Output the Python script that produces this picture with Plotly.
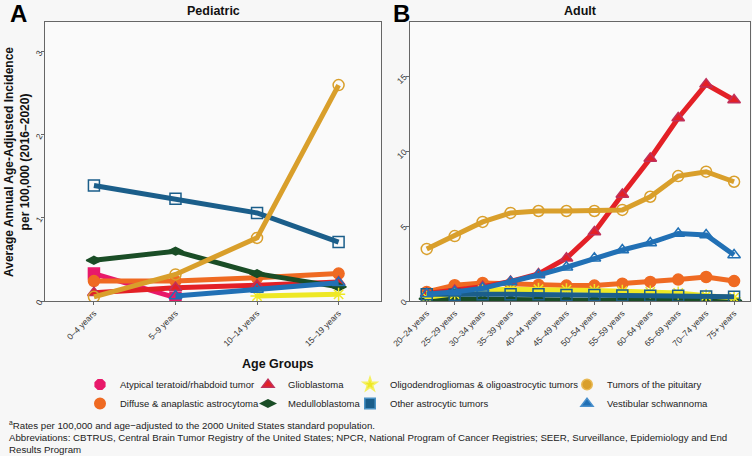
import plotly.graph_objects as go

W, H = 752, 456

ped_ages = ["0–4 years", "5–9 years", "10–14 years", "15–19 years"]
adult_ages = ["20–24 years", "25–29 years", "30–34 years", "35–39 years", "40–44 years",
              "45–49 years", "50–54 years", "55–59 years", "60–64 years", "65–69 years",
              "70–74 years", "75+ years"]

names = ["Atypical teratoid/rhabdoid tumor", "Diffuse & anaplastic astrocytoma", "Glioblastoma",
         "Medulloblastoma", "Oligodendrogliomas & oligoastrocytic tumors", "Other astrocytic tumors",
         "Tumors of the pituitary", "Vestibular schwannoma"]

ped_atrt = [0.33, 0.04, None, None]
ped_diffuse = [0.24, 0.24, 0.28, 0.33]
ped_gbm = [0.10, 0.16, 0.19, 0.23]
ped_medullo = [0.49, 0.60, 0.33, 0.17]
ped_oligo = [None, None, 0.06, 0.08]
ped_other = [1.39, 1.23, 1.06, 0.71]
ped_pit = [0.05, 0.32, 0.76, 2.60]
ped_vest = [None, 0.06, 0.14, 0.22]

ad_atrt = [None] * 12
ad_diffuse = [0.60, 1.05, 1.20, 1.13, 1.07, 1.03, 1.03, 1.15, 1.27, 1.43, 1.60, 1.33]
ad_gbm = [0.50, 0.70, 0.95, 1.30, 1.80, 2.85, 4.60, 7.10, 9.50, 12.20, 14.45, 13.40]
ad_medullo = [0.15, 0.12, 0.10, 0.08, 0.07, 0.06, 0.05, 0.05, 0.04, 0.04, 0.03, 0.03]
ad_oligo = [0.25, 0.45, 0.72, 0.78, 0.78, 0.75, 0.70, 0.65, 0.60, 0.53, 0.35, 0.22]
ad_other = [0.45, 0.42, 0.45, 0.45, 0.45, 0.40, 0.40, 0.37, 0.35, 0.35, 0.30, 0.28]
ad_pit = [3.47, 4.33, 5.27, 5.87, 6.00, 6.00, 6.00, 6.07, 6.95, 8.33, 8.62, 7.95]
ad_vest = [0.47, 0.60, 0.85, 1.27, 1.73, 2.25, 2.85, 3.40, 3.87, 4.50, 4.40, 3.07]

ped_vals = [ped_atrt, ped_diffuse, ped_gbm, ped_medullo, ped_oligo, ped_other, ped_pit, ped_vest]
ad_vals = [ad_atrt, ad_diffuse, ad_gbm, ad_medullo, ad_oligo, ad_other, ad_pit, ad_vest]

colors = ["#e8196a", "#ef6a22", "#e32026", "#1a4d26", "#eee825", "#1b5e8a", "#d99f2b", "#2170b5"]
outline = ["#e8196a", "#ef6a22", "#c0305a", "#1a4d26", "#f5f060", "#4a92c4", "#e8b955", "#4a90cc"]
symbols = ["square", "circle", "triangle-up", "diamond-wide", "asterisk-open", "square-open",
           "circle-open", "triangle-up-open"]
leg_symbols = ["octagon", "circle", "triangle-up", "diamond-wide", "star", "square",
               "circle", "triangle-up"]
legend_ids = ["legend", "legend", "legend2", "legend2", "legend3", "legend3", "legend4", "legend4"]

fig = go.Figure()

for i, nm in enumerate(names):
    for xs, ys, xa, ya in [(ped_ages, ped_vals[i], "x", "y"), (adult_ages, ad_vals[i], "x2", "y2")]:
        fig.add_trace(go.Scatter(
            x=xs, y=ys, xaxis=xa, yaxis=ya, mode="lines+markers", name=nm,
            showlegend=False, connectgaps=False,
            line=dict(color=colors[i], width=5),
            marker=dict(symbol=symbols[i], size=11, color=colors[i],
                        line=dict(color=outline[i], width=1.5)),
        ))

for i, nm in enumerate(names):
    fig.add_trace(go.Scatter(
        x=[None], y=[None], xaxis="x", yaxis="y", mode="markers", name=nm,
        legend=legend_ids[i], showlegend=True,
        marker=dict(symbol=leg_symbols[i], size=10.5, color=colors[i],
                    line=dict(color=outline[i], width=1.5)),
    ))

x1 = [45 / W, 381 / W]
x2 = [410 / W, 750 / W]
yd = [1 - 301 / H, 1 - 22 / H]

axis_common = dict(showline=True, linecolor="#666", linewidth=1, mirror=True, showgrid=False,
                   zeroline=False, ticks="outside", ticklen=3, tickcolor="#666", automargin=False,
                   tickfont=dict(family="Liberation Sans", size=8.5, color="#333"))

fig.update_layout(
    width=W, height=H, margin=dict(l=0, r=0, t=0, b=0),
    paper_bgcolor="#f7f7f7", plot_bgcolor="#fafafa",
    font=dict(family="Liberation Sans", color="#111"),
    xaxis=dict(domain=x1, anchor="y", type="category", categoryarray=ped_ages,
               range=[-0.6, 3.52], tickangle=-45, **axis_common),
    yaxis=dict(domain=yd, anchor="x", range=[0, 3.36], tickvals=[0, 1, 2, 3],
               tickangle=-60, **axis_common),
    xaxis2=dict(domain=x2, anchor="y2", type="category", categoryarray=adult_ages,
                range=[-0.6, 11.57], tickangle=-45, **axis_common),
    yaxis2=dict(domain=yd, anchor="x2", range=[0, 18.6], tickvals=[0, 5, 10, 15],
                tickangle=-45, **axis_common),
)

leg_common = dict(orientation="v", yanchor="top", xanchor="left", bgcolor="rgba(0,0,0,0)",
                  font=dict(family="Liberation Sans", size=9.5, color="#222"),
                  itemclick=False, tracegroupgap=0)
top = 1 - 370 / H
fig.update_layout(
    legend=dict(x=80 / W, y=top, **leg_common),
    legend2=dict(x=248 / W, y=top, **leg_common),
    legend3=dict(x=350 / W, y=top, **leg_common),
    legend4=dict(x=567 / W, y=top, **leg_common),
)

def px(x, y):
    return x / W, 1 - y / H

anns = [
    dict(text="<b>A</b>", x=px(8, 13)[0], y=px(8, 13)[1], xanchor="left", font=dict(size=24, color="#000")),
    dict(text="<b>B</b>", x=px(391, 13)[0], y=px(391, 13)[1], xanchor="left", font=dict(size=24, color="#000")),
    dict(text="<b>Pediatric</b>", x=px(213, 11)[0], y=px(213, 11)[1], xanchor="center", font=dict(size=12.5, color="#111")),
    dict(text="<b>Adult</b>", x=px(580, 11)[0], y=px(580, 11)[1], xanchor="center", font=dict(size=12.5, color="#111")),
    dict(text="<b>Average Annual Age-Adjusted Incidence<br>per 100,000 (2016–2020)</b>",
         x=px(17, 162)[0], y=px(17, 162)[1], xanchor="center", textangle=-90,
         font=dict(size=12, color="#111")),
    dict(text="<b>Age Groups</b>", x=px(278, 364)[0], y=px(278, 364)[1], xanchor="center",
         font=dict(size=12.5, color="#111")),
    dict(text="<sup>a</sup>Rates per 100,000 and age−adjusted to the 2000 United States standard population.",
         x=px(7, 425)[0], y=px(7, 425)[1], xanchor="left", font=dict(size=9.7, color="#222")),
    dict(text="Abbreviations: CBTRUS, Central Brain Tumor Registry of the United States; NPCR, National Program of Cancer Registries; SEER, Surveillance, Epidemiology and End",
         x=px(7, 437)[0], y=px(7, 437)[1], xanchor="left", font=dict(size=9.7, color="#222")),
    dict(text="Results Program",
         x=px(7, 449)[0], y=px(7, 449)[1], xanchor="left", font=dict(size=9.7, color="#222")),
]
for a in anns:
    a.update(xref="paper", yref="paper", yanchor="middle", showarrow=False)
fig.update_layout(annotations=anns)

fig.write_html("out.html", config={"displayModeBar": False},
               post_script="document.body.style.margin='0';document.body.style.background='#f7f7f7';")
